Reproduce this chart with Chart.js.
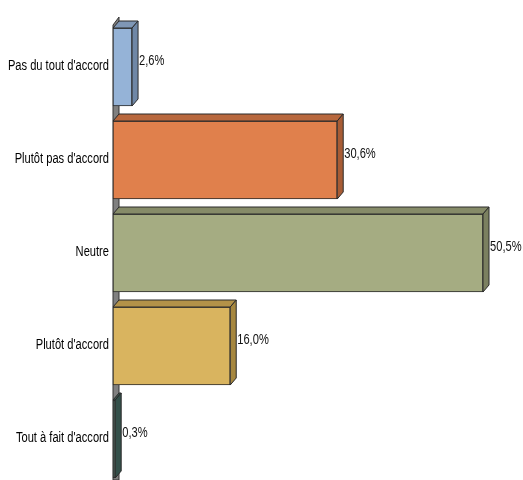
<!DOCTYPE html>
<html><head><meta charset="utf-8">
<script src="https://cdn.jsdelivr.net/npm/chart.js@4/dist/chart.umd.min.js"></script>
<style>html,body{margin:0;padding:0;background:#fff}#wrap{width:523px;height:480px}</style>
</head><body><div id="wrap"><canvas id="c" width="523" height="480"></canvas></div>
<script>
const categories = ["Pas du tout d'accord", "Plutôt pas d'accord", "Neutre", "Plutôt d'accord", "Tout à fait d'accord"];
const values = [2.6, 30.6, 50.5, 16.0, 0.3];
const valueLabels = ["2,6%", "30,6%", "50,5%", "16,0%", "0,3%"];
const frontColors = ["#95B3D7", "#E0804C", "#A5AC82", "#D9B45F", "#4B6B60"];
const sideColors = ["#6F87A6", "#A85C35", "#7B8060", "#A6873F", "#33504A"];
const topColors = ["#7F97B6", "#B8683E", "#868B68", "#B39248", "#3C5A52"];

const DX = 6, DY = -7;
const FONT = '"Liberation Sans", Arial, sans-serif';
const SX = 0.795;

function condensedText(ctx, text, x, y, align) {
  ctx.save();
  ctx.translate(x, y);
  ctx.scale(SX, 1);
  ctx.textAlign = align;
  ctx.textBaseline = 'middle';
  ctx.fillText(text, 0, 0);
  ctx.restore();
}

const threeD = {
  id: 'threeD',
  beforeDatasetsDraw(chart) {
    const ctx = chart.ctx, a = chart.chartArea;
    const L = a.left;
    ctx.save();
    ctx.fillStyle = '#808080';
    ctx.strokeStyle = '#333';
    ctx.lineWidth = 1;
    ctx.beginPath();
    ctx.moveTo(L, 480);
    ctx.lineTo(L, 25);
    ctx.lineTo(L + DX, 17);
    ctx.lineTo(L + DX, 480);
    ctx.closePath();
    ctx.fill();
    ctx.stroke();
    const ys = chart.scales.y;
    ctx.fillStyle = '#000';
    ctx.font = '14px ' + FONT;
    ys.ticks.forEach((t, i) => {
      condensedText(ctx, ys.getLabelForValue(t.value), ys.right - 4, ys.getPixelForTick(i) - 0.5, 'right');
    });
    ctx.restore();
  },
  afterDatasetsDraw(chart) {
    const ctx = chart.ctx;
    const meta = chart.getDatasetMeta(0);
    ctx.save();
    ctx.lineWidth = 1;
    ctx.strokeStyle = '#2a2a2a';
    meta.data.forEach((bar, i) => {
      const x0 = bar.base, x1 = bar.x;
      const t = bar.y - bar.height / 2, b = bar.y + bar.height / 2;
      ctx.fillStyle = topColors[i];
      ctx.beginPath();
      ctx.moveTo(x0, t); ctx.lineTo(x0 + DX, t + DY); ctx.lineTo(x1 + DX, t + DY); ctx.lineTo(x1, t); ctx.closePath();
      ctx.fill(); ctx.stroke();
      ctx.fillStyle = sideColors[i];
      ctx.beginPath();
      ctx.moveTo(x1, t); ctx.lineTo(x1 + DX, t + DY); ctx.lineTo(x1 + DX, b + DY); ctx.lineTo(x1, b); ctx.closePath();
      ctx.fill(); ctx.stroke();
      ctx.fillStyle = '#111';
      ctx.font = '14px ' + FONT;
      condensedText(ctx, valueLabels[i], x1 + DX + 1, bar.y - 6, 'left');
    });
    ctx.restore();
  }
};

new Chart(document.getElementById('c'), {
  type: 'bar',
  data: {
    labels: categories,
    datasets: [{
      data: values,
      backgroundColor: frontColors,
      borderColor: '#2a2a2a',
      borderWidth: 1,
      borderSkipped: false,
      barThickness: 78,
      clip: false
    }]
  },
  options: {
    indexAxis: 'y',
    responsive: false,
    animation: false,
    layout: { padding: { top: 67, bottom: 41, left: 0, right: 29 } },
    plugins: { legend: { display: false }, tooltip: { enabled: false } },
    scales: {
      x: { display: false, min: 0, max: 52 },
      y: {
        offset: false,
        grid: { display: false, drawTicks: false },
        border: { display: false },
        ticks: { color: 'rgba(0,0,0,0)', padding: 4, font: { family: FONT, size: 10 } },
        afterFit(scale) { scale.width = 113; }
      }
    }
  },
  plugins: [threeD]
});
</script></body></html>
